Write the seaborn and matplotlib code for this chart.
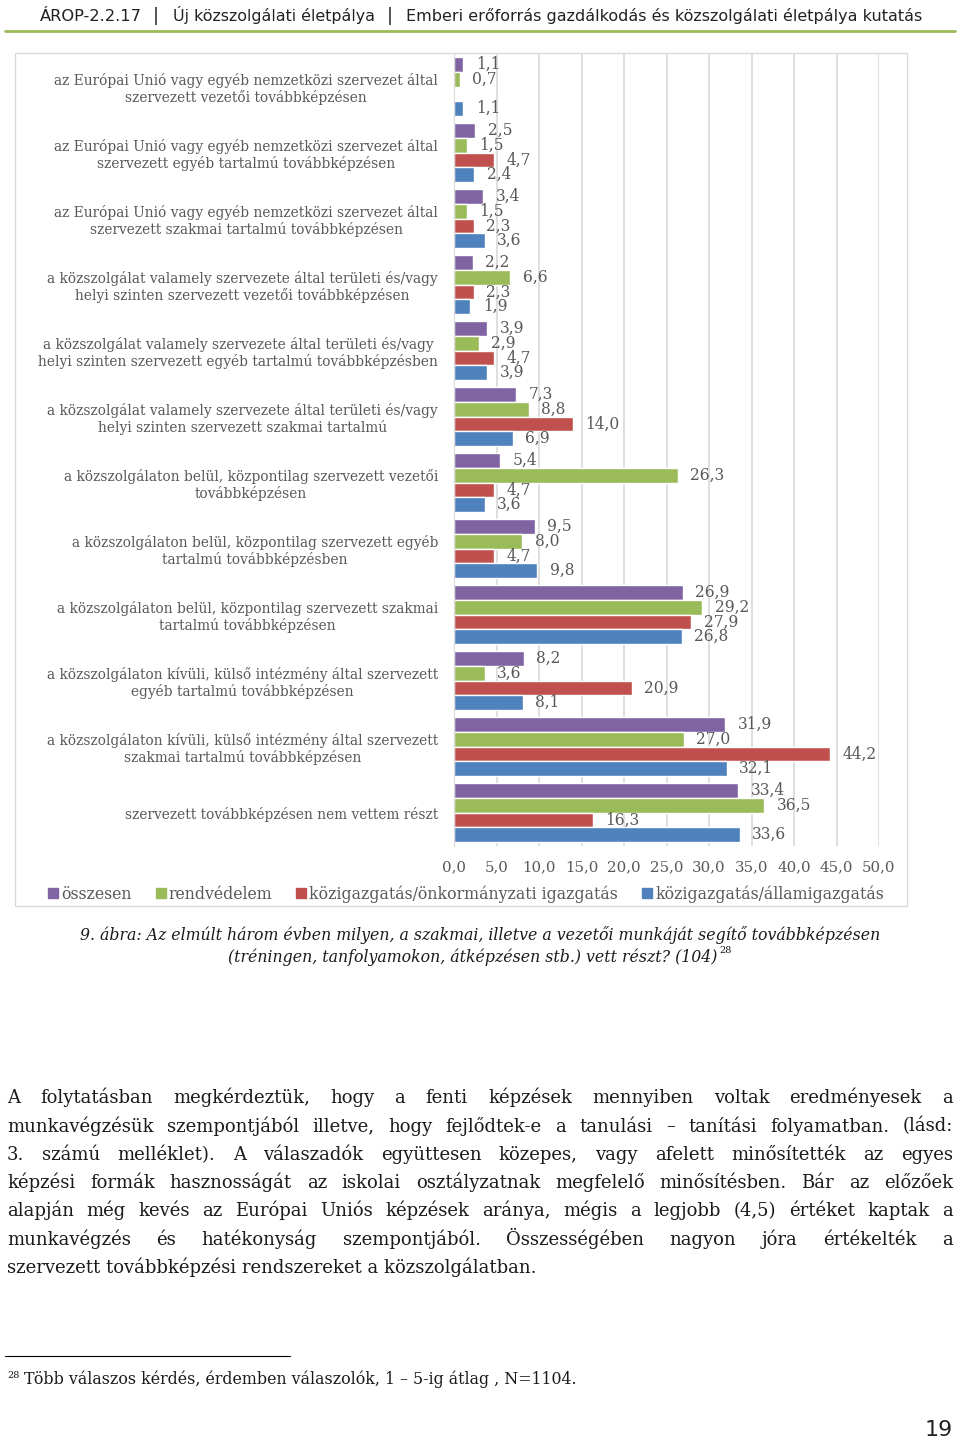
import numpy as np
import pandas as pd
import matplotlib
matplotlib.use("Agg")
import matplotlib.pyplot as plt
import seaborn as sns
from matplotlib.patches import Patch, Rectangle
from matplotlib.lines import Line2D
from matplotlib import font_manager

# --- data -------------------------------------------------------------
categories = [
    "az Európai Unió vagy egyéb nemzetközi szervezet által\nszervezett vezetői továbbképzésen",
    "az Európai Unió vagy egyéb nemzetközi szervezet által\nszervezett egyéb tartalmú továbbképzésen",
    "az Európai Unió vagy egyéb nemzetközi szervezet által\nszervezett szakmai tartalmú továbbképzésen",
    "a közszolgálat valamely szervezete által területi és/vagy\nhelyi szinten szervezett vezetői továbbképzésen",
    "a közszolgálat valamely szervezete által területi és/vagy\nhelyi szinten szervezett egyéb tartalmú továbbképzésben",
    "a közszolgálat valamely szervezete által területi és/vagy\nhelyi szinten szervezett szakmai tartalmú",
    "a közszolgálaton belül, központilag szervezett vezetői\ntovábbképzésen",
    "a közszolgálaton belül, központilag szervezett egyéb\ntartalmú továbbképzésben",
    "a közszolgálaton belül, központilag szervezett szakmai\ntartalmú továbbképzésen",
    "a közszolgálaton kívüli, külső intézmény által szervezett\negyéb tartalmú továbbképzésen",
    "a közszolgálaton kívüli, külső intézmény által szervezett\nszakmai tartalmú továbbképzésen",
    "szervezett továbbképzésen nem vettem részt",
]
series = ["összesen", "rendvédelem",
          "közigazgatás/önkormányzati igazgatás", "közigazgatás/államigazgatás"]
osszesen = [1.1, 2.5, 3.4, 2.2, 3.9, 7.3, 5.4, 9.5, 26.9, 8.2, 31.9, 33.4]
rendvedelem = [0.7, 1.5, 1.5, 6.6, 2.9, 8.8, 26.3, 8.0, 29.2, 3.6, 27.0, 36.5]
onkormanyzati = [None, 4.7, 2.3, 2.3, 4.7, 14.0, 4.7, 4.7, 27.9, 20.9, 44.2, 16.3]
allamigazgatas = [1.1, 2.4, 3.6, 1.9, 3.9, 6.9, 3.6, 9.8, 26.8, 8.1, 32.1, 33.6]
colors = ["#8064A2", "#9BBB59", "#C0504D", "#4F81BD"]
xticks = [0, 5, 10, 15, 20, 25, 30, 35, 40, 45, 50]

header_parts = ["ÁROP-2.2.17", "Új közszolgálati életpálya",
                "Emberi erőforrás gazdálkodás és közszolgálati életpálya kutatás"]
caption = ["9. ábra: Az elmúlt három évben milyen, a szakmai, illetve a vezetői munkáját segítő továbbképzésen",
           "(tréningen, tanfolyamokon, átképzésen stb.) vett részt? (104)"]
paragraph = [
    "A folytatásban megkérdeztük, hogy a fenti képzések mennyiben voltak eredményesek a",
    "munkavégzésük szempontjából illetve, hogy fejlődtek-e a tanulási – tanítási folyamatban. (lásd:",
    "3. számú melléklet). A válaszadók együttesen közepes, vagy afelett minősítették az egyes",
    "képzési formák hasznosságát az iskolai osztályzatnak megfelelő minősítésben. Bár az előzőek",
    "alapján még kevés az Európai Uniós képzések aránya, mégis a legjobb (4,5) értéket kaptak a",
    "munkavégzés és hatékonyság szempontjából. Összességében nagyon jóra értékelték a",
    "szervezett továbbképzési rendszereket a közszolgálatban.",
]
footnote = "Több válaszos kérdés, érdemben válaszolók, 1 – 5-ig átlag , N=1104."

df = pd.DataFrame({
    "kategória": categories * 4,
    "csoport": np.repeat(series, len(categories)),
    "érték": osszesen + rendvedelem + onkormanyzati + allamigazgatas,
}).dropna()

# --- style ------------------------------------------------------------
sns.set_style("white")
plt.rcParams["font.family"] = ["DejaVu Serif"]
names = {f.name for f in font_manager.fontManager.ttflist}
cond = "Liberation Sans Narrow" if "Liberation Sans Narrow" in names else "DejaVu Sans"
grey = "#595959"
ink = "#1a1a1a"

W, H = 960, 1439
fig = plt.figure(figsize=(W / 100, H / 100), dpi=100)
renderer = fig.canvas.get_renderer()


def px(x, y):
    return x / W, 1 - y / H


def put(s, x, y, width=None, **kw):
    # place text at pixel coords, optionally scaled to a given pixel width
    kw.setdefault("va", "baseline")
    t = fig.text(*px(x, y), s, **kw)
    if width:
        w = t.get_window_extent(renderer).width
        t.set_fontsize(t.get_fontsize() * width / w)
    return t


# --- chart ------------------------------------------------------------
ax = fig.add_axes([454 / W, 1 - 845.5 / H, (879 - 454) / W, (845.5 - 53.5) / H])
sns.barplot(data=df, x="érték", y="kategória", hue="csoport",
            order=categories, hue_order=series, palette=colors,
            orient="h", width=0.89, saturation=1, legend=False, ax=ax)

for c in ax.containers:
    ax.bar_label(c, labels=[f"{v:.1f}".replace(".", ",") for v in c.datavalues],
                 padding=9, fontsize=11.2, color=grey)

ax.set_xlim(0, 50)
ax.set_xticks(xticks)
ax.set_xticklabels([f"{t:.1f}".replace(".", ",") for t in xticks], fontsize=10.8, color=grey)
ax.set_yticks(range(len(categories)))
ax.set_yticklabels(categories, fontsize=9.9, color=grey, multialignment="center")
ax.tick_params(axis="x", length=0, pad=11)
ax.tick_params(axis="y", length=0, pad=11.5)
ax.set_xlabel("")
ax.set_ylabel("")
ax.xaxis.grid(True, color="#d9d9d9", lw=1.2)
ax.set_axisbelow(True)
for side in ["top", "right", "bottom"]:
    ax.spines[side].set_visible(False)
ax.spines["left"].set_color("#d9d9d9")

fig.patches.append(Rectangle(px(15, 906), (907 - 15) / W, (906 - 53.5) / H,
                             transform=fig.transFigure, fill=False,
                             ec="#d9d9d9", lw=1))

handles = [Patch(color=c) for c in colors]
fig.legend(handles, series, loc="center", bbox_to_anchor=px(466, 894), ncol=4,
           frameon=False, handlelength=0.65, handleheight=0.65, handletextpad=0.2,
           columnspacing=1.5, fontsize=11.3, labelcolor=grey)

# --- page ---------------------------------------------------------------
put(header_parts[0], 40, 21, width=102, family=cond, fontsize=13, color="#222")
put("|", 156, 21, family=cond, fontsize=13, color="#222", ha="center")
put(header_parts[1], 173, 21, width=202, family=cond, fontsize=13, color="#222")
put("|", 390, 21, family=cond, fontsize=13, color="#222", ha="center")
put(header_parts[2], 406, 21, width=514, family=cond, fontsize=13, color="#222")
fig.add_artist(Line2D([5 / W, 955 / W], [1 - 31 / H] * 2, color="#9BBB59", lw=2))

c1 = put(caption[0], 80, 940, width=800, style="italic", fontsize=11, color=ink)
c2 = put(caption[1], 228, 962.5, style="italic", fontsize=c1.get_fontsize(), color=ink)
e = c2.get_window_extent(renderer)
put("28", e.x1 + 2, 953, fontsize=7, color=ink)

# justified paragraph
baselines = [1103, 1131.5, 1160, 1188, 1216.5, 1245, 1273]
x0, x1 = 7, 953
for i, (line, yb) in enumerate(zip(paragraph, baselines)):
    if i == len(paragraph) - 1:
        put(line, x0, yb, fontsize=13, color=ink)
        continue
    words = line.split(" ")
    arts = [put(wd, 0, yb, fontsize=13, color=ink) for wd in words]
    widths = [a.get_window_extent(renderer).width for a in arts]
    gap = (x1 - x0 - sum(widths)) / (len(words) - 1)
    x = x0
    for a, wdt in zip(arts, widths):
        a.set_position(px(x, yb))
        x += wdt + gap

fig.add_artist(Line2D([5 / W, 290 / W], [1 - 1356 / H] * 2, color="black", lw=0.8))
put("28", 7, 1378, fontsize=7, color=ink)
put(footnote, 24, 1384, width=551, fontsize=11, color=ink)
put("19", 953, 1436, family=cond, fontsize=16, color="#222", ha="right")

fig.savefig("out.png", dpi=100)
